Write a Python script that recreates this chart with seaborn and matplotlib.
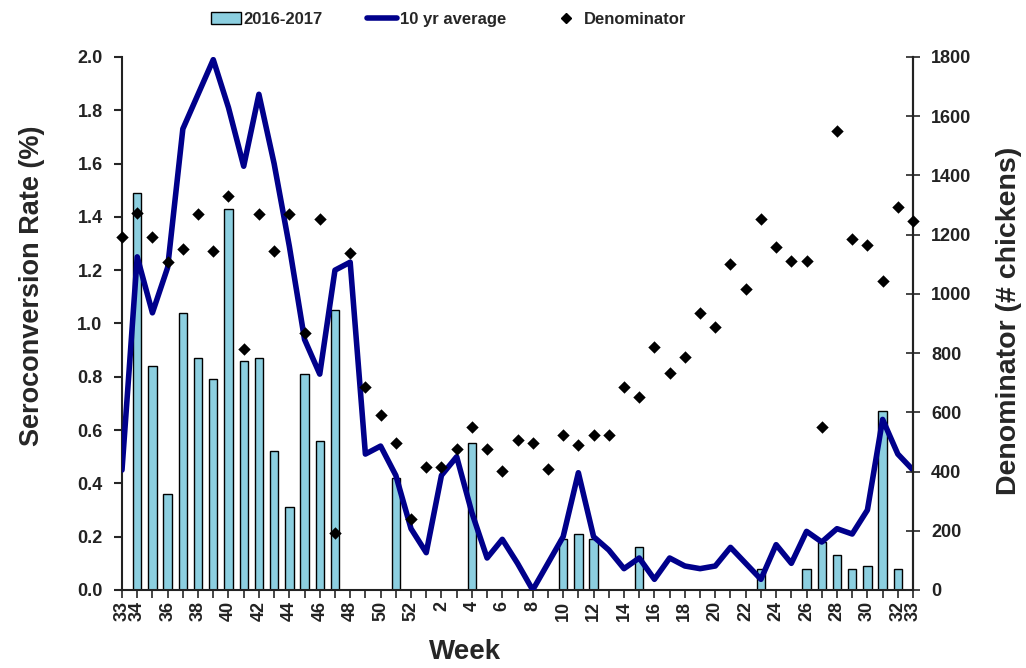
import numpy as np
import pandas as pd
import matplotlib
matplotlib.use("Agg")
import matplotlib.pyplot as plt
import seaborn as sns
from matplotlib.patches import Patch
from matplotlib.lines import Line2D

# week labels, Aug 2016 -> Aug 2017
weeks = list(range(33, 53)) + list(range(1, 34))

# seroconversion rate (%) 2016-2017, NaN = no bar
rate = [np.nan, 1.49, 0.84, 0.36, 1.04, 0.87, 0.79, 1.43, 0.86, 0.87,
        0.52, 0.31, 0.81, 0.56, 1.05, np.nan, np.nan, np.nan, 0.42, np.nan,
        np.nan, np.nan, np.nan, 0.55, np.nan, np.nan, np.nan, np.nan, np.nan, 0.19,
        0.21, 0.19, np.nan, np.nan, 0.16, np.nan, np.nan, np.nan, np.nan, np.nan,
        np.nan, np.nan, 0.08, np.nan, np.nan, 0.08, 0.18, 0.13, 0.08, 0.09,
        0.67, 0.08, np.nan]

# 10 yr average rate (%)
avg10 = [0.45, 1.25, 1.04, 1.21, 1.73, 1.86, 1.99, 1.81, 1.59, 1.86,
         1.60, 1.29, 0.94, 0.81, 1.20, 1.23, 0.51, 0.54, 0.43, 0.23,
         0.14, 0.43, 0.50, 0.29, 0.12, 0.19, 0.10, 0.00, 0.10, 0.20,
         0.44, 0.20, 0.15, 0.08, 0.12, 0.04, 0.12, 0.09, 0.08, 0.09,
         0.16, 0.10, 0.04, 0.17, 0.10, 0.22, 0.18, 0.23, 0.21, 0.30,
         0.64, 0.51, 0.45]

# denominator (# chickens)
denom = [1193, 1274, 1193, 1107, 1153, 1269, 1146, 1331, 814, 1269,
         1146, 1269, 869, 1254, 194, 1139, 687, 592, 497, 241,
         416, 416, 477, 552, 477, 403, 505, 497, 410, 523,
         490, 523, 523, 687, 653, 822, 734, 788, 937, 889,
         1100, 1017, 1254, 1159, 1111, 1111, 552, 1551, 1185, 1166,
         1044, 1295, 1246]

df = pd.DataFrame({"pos": np.arange(len(weeks)), "week": weeks,
                   "rate": rate, "avg": avg10, "denom": denom})

bar_color = "#8ccfe0"
line_color = "#00008b"

sns.set_style("white")
plt.rcParams["font.family"] = ["Liberation Sans", "DejaVu Sans"]

fig = plt.figure(figsize=(10.26, 6.68), dpi=100)
ax = fig.add_axes([0.1189, 0.1168, 0.7710, 0.7979])

sns.barplot(data=df.dropna(subset=["rate"]), x="pos", y="rate", native_scale=True,
            color=bar_color, edgecolor="black", linewidth=1, width=0.55,
            saturation=1, ax=ax, zorder=2)
sns.lineplot(data=df, x="pos", y="avg", color=line_color, linewidth=4, ax=ax,
             zorder=3, solid_joinstyle="round", solid_capstyle="round")

ax2 = ax.twinx()
sns.scatterplot(data=df, x="pos", y="denom", marker="D", color="black", s=40,
                edgecolor="black", linewidth=0, ax=ax2, zorder=4, clip_on=False)

ax.set_xlim(0.0, 52.0)
ax.set_ylim(0, 2.0)
ax2.set_ylim(0, 1800)

ax.set_yticks(np.arange(0, 2.01, 0.2))
ax.set_yticklabels([f"{v:.1f}" for v in np.arange(0, 2.01, 0.2)],
                   fontsize=13, fontweight="bold", color="#222222")
ax2.set_yticks(np.arange(0, 1801, 200))
ax2.set_yticklabels([str(v) for v in range(0, 1801, 200)],
                    fontsize=13, fontweight="bold", color="#222222")

ax.set_xticks(df["pos"])
xlabels = [str(w) if (w % 2 == 0 or i in (0, len(weeks) - 1)) else ""
           for i, w in enumerate(weeks)]
ax.set_xticklabels(xlabels, rotation=90, fontsize=13, fontweight="bold",
                   color="#222222")

for a in (ax, ax2):
    a.spines["top"].set_visible(False)
    for s in a.spines.values():
        s.set_color("#222222")
        s.set_linewidth(1.5)
ax2.spines["left"].set_visible(False)
ax2.spines["bottom"].set_visible(False)

ax.tick_params(axis="y", direction="out", length=6, width=1.5, left=True, pad=8)
ax.tick_params(axis="x", direction="out", length=6, width=1.2, bottom=True, pad=2)
ax2.tick_params(axis="y", direction="inout", length=10, width=1.2, right=True, pad=8)

ax.set_xlabel("Week", fontsize=20, fontweight="bold")
ax.xaxis.set_label_coords(0.434, -0.092)
ax.set_ylabel("Seroconversion Rate (%)", fontsize=19.5, fontweight="bold")
ax.yaxis.set_label_coords(-0.097, 0.57)
ax2.set_ylabel("Denominator (# chickens)", fontsize=20.5, fontweight="bold")
ax2.yaxis.set_label_coords(1.105, 0.505)

handles = [Patch(facecolor=bar_color, edgecolor="black", linewidth=1),
           Line2D([], [], color=line_color, linewidth=4),
           Line2D([], [], marker="D", color="black", linestyle="none", markersize=5)]
fig.legend(handles, ["2016-2017", "10 yr average", "Denominator"], loc="upper center",
           bbox_to_anchor=(0.437, 1.005), ncol=3, frameon=False,
           handlelength=1.8, handletextpad=0.15, columnspacing=2.7,
           prop={"weight": "bold", "size": 12})

fig.savefig("out.png", dpi=100)
